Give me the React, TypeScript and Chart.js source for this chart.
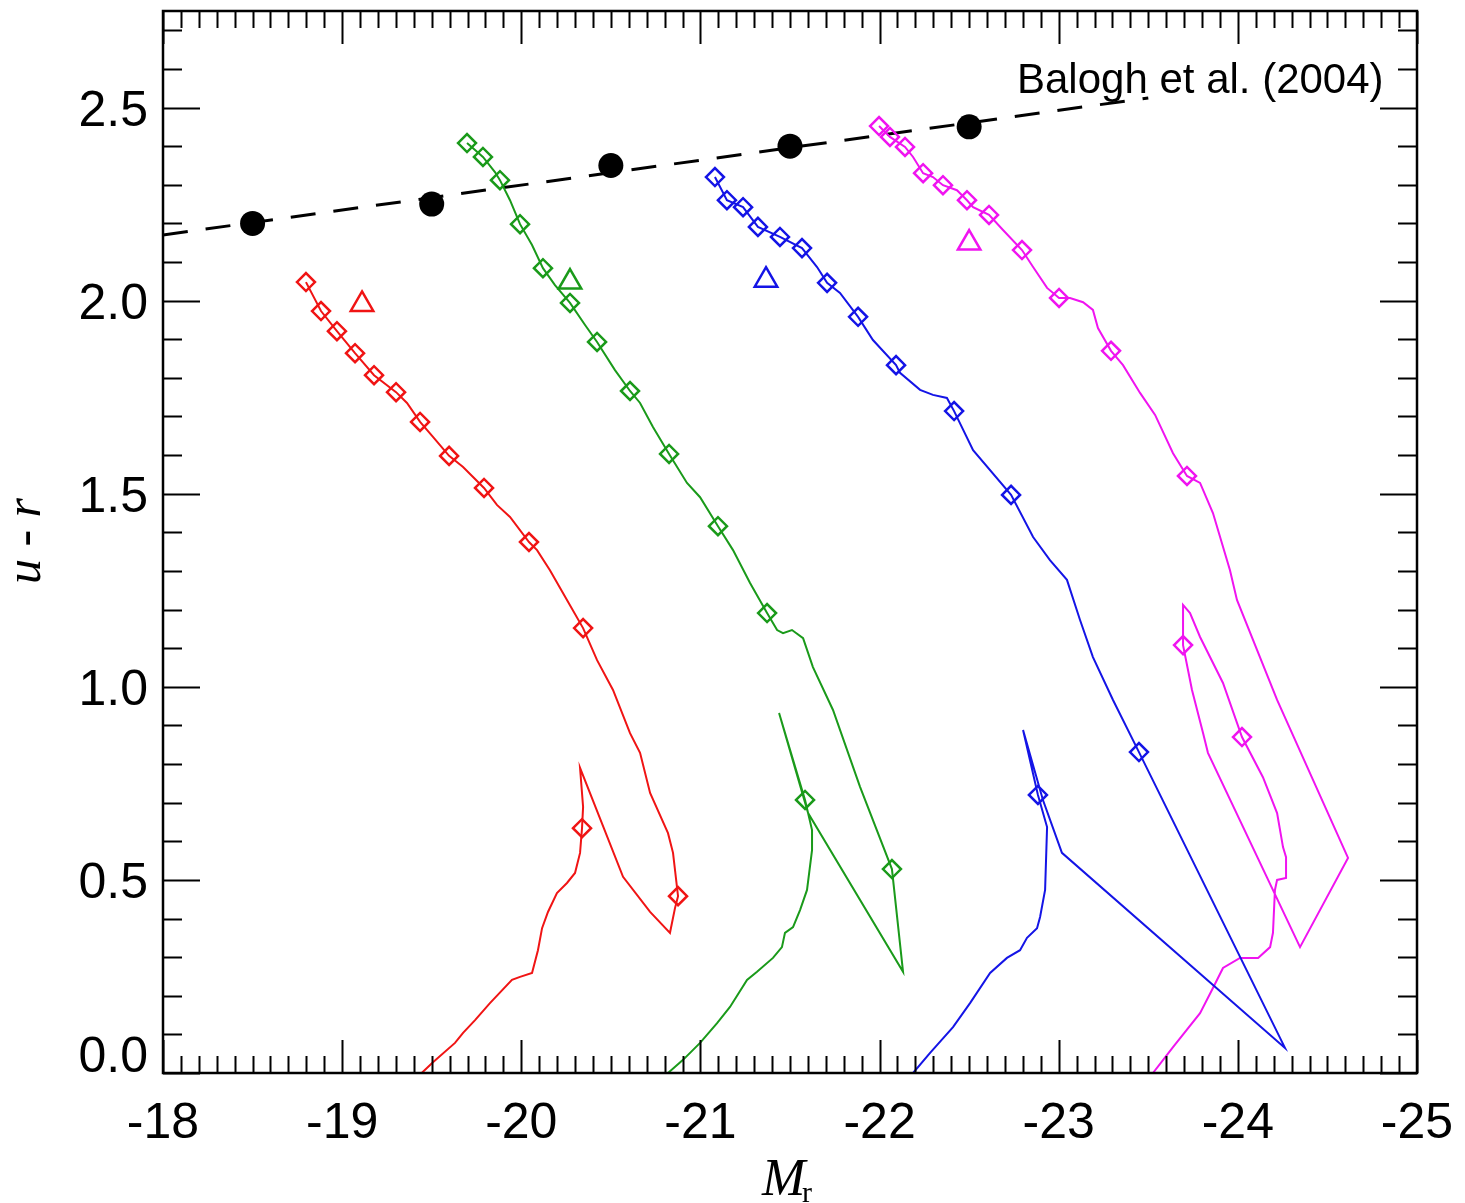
import React, { useEffect, useRef } from 'react';
import { Chart, registerables } from 'chart.js';

Chart.register(...registerables);

// ---- axes ----
const X_MIN = -25;
const X_MAX = -18;
const Y_MIN = 0;
const Y_MAX = 2.75;
const X_TICKS = [-18, -19, -20, -21, -22, -23, -24, -25];
const X_TICK_LABELS = ['-18', '-19', '-20', '-21', '-22', '-23', '-24', '-25'];
const Y_TICKS = [0, 0.5, 1.0, 1.5, 2.0, 2.5];
const Y_TICK_LABELS = ['0.0', '0.5', '1.0', '1.5', '2.0', '2.5'];
const MINOR_STEP = 0.1;

// ---- Balogh et al. (2004) red-sequence relation ----
const BALOGH_X = [-18.5, -19.5, -20.5, -21.5, -22.5];
const BALOGH_Y = [2.2, 2.25, 2.35, 2.4, 2.45];
const FIT_X = [-18.0, -23.5];
const FIT_Y = [2.17, 2.525];

// ---- red track ----
const RED_X = [-19.444, -19.507, -19.63, -19.675, -19.742, -19.825, -19.948, -19.993, -20.06, -20.093, -20.116, -20.149, -20.199, -20.255, -20.3, -20.328, -20.339, -20.345, -20.328, -20.568, -20.719, -20.83, -20.858, -20.875, -20.847, -20.819, -20.719, -20.663, -20.607, -20.512, -20.423, -20.345, -20.255, -20.16, -20.088, -20.043, -19.937, -19.864, -19.792, -19.675, -19.597, -19.507, -19.435, -19.362, -19.301, -19.178, -19.072, -18.971, -18.882, -18.798];
const RED_Y = [0.0, 0.028, 0.078, 0.104, 0.137, 0.181, 0.241, 0.249, 0.259, 0.318, 0.375, 0.417, 0.466, 0.492, 0.518, 0.57, 0.634, 0.689, 0.79, 0.508, 0.417, 0.363, 0.427, 0.458, 0.57, 0.621, 0.725, 0.829, 0.88, 0.992, 1.069, 1.152, 1.225, 1.302, 1.354, 1.375, 1.44, 1.471, 1.515, 1.569, 1.598, 1.647, 1.686, 1.735, 1.763, 1.807, 1.864, 1.921, 1.973, 2.048];
const RED_MARKS = [16, 23, 31, 35, 38, 40, 42, 44, 45, 46, 47, 48, 49];
const RED_TRI_X = [-19.111];
const RED_TRI_Y = [1.99];

// ---- green track ----
const GREEN_X = [-20.819, -20.903, -20.998, -21.093, -21.165, -21.26, -21.316, -21.405, -21.455, -21.472, -21.517, -21.556, -21.595, -21.623, -21.623, -21.584, -21.539, -21.439, -21.601, -22.131, -22.069, -21.891, -21.74, -21.628, -21.573, -21.511, -21.461, -21.428, -21.372, -21.277, -21.182, -21.098, -20.998, -20.925, -20.825, -20.735, -20.663, -20.607, -20.523, -20.423, -20.356, -20.272, -20.188, -20.121, -20.06, -19.993, -19.937, -19.881, -19.853, -19.786, -19.742, -19.697];
const GREEN_Y = [0.0, 0.034, 0.078, 0.129, 0.171, 0.241, 0.262, 0.298, 0.326, 0.363, 0.378, 0.422, 0.474, 0.577, 0.629, 0.707, 0.777, 0.932, 0.673, 0.262, 0.528, 0.741, 0.94, 1.051, 1.126, 1.147, 1.139, 1.147, 1.191, 1.269, 1.354, 1.416, 1.491, 1.528, 1.603, 1.673, 1.735, 1.766, 1.82, 1.893, 1.937, 1.994, 2.04, 2.084, 2.144, 2.198, 2.26, 2.312, 2.333, 2.372, 2.39, 2.408];
const GREEN_MARKS = [15, 20, 28, 31, 34, 37, 39, 41, 43, 45, 47, 49, 51];
const GREEN_TRI_X = [-20.272];
const GREEN_TRI_Y = [2.048];

// ---- blue track ----
const BLUE_X = [-22.187, -22.282, -22.41, -22.505, -22.617, -22.711, -22.784, -22.823, -22.879, -22.896, -22.924, -22.935, -22.884, -22.801, -22.912, -23.018, -24.263, -23.448, -23.303, -23.191, -23.119, -23.046, -22.951, -22.857, -22.734, -22.522, -22.416, -22.376, -22.298, -22.226, -22.114, -22.092, -21.963, -21.88, -21.779, -21.707, -21.651, -21.567, -21.444, -21.321, -21.238, -21.148, -21.081];
const BLUE_Y = [0.0, 0.052, 0.119, 0.181, 0.259, 0.298, 0.318, 0.35, 0.375, 0.404, 0.474, 0.637, 0.72, 0.888, 0.707, 0.57, 0.065, 0.831, 0.966, 1.077, 1.173, 1.277, 1.328, 1.388, 1.497, 1.613, 1.714, 1.748, 1.756, 1.769, 1.813, 1.833, 1.898, 1.958, 2.02, 2.046, 2.087, 2.136, 2.165, 2.191, 2.242, 2.26, 2.32];
const BLUE_MARKS = [12, 17, 24, 26, 31, 33, 35, 37, 38, 39, 40, 41, 42];
const BLUE_TRI_X = [-21.366];
const BLUE_TRI_Y = [2.053];

// ---- magenta track ----
const MAGENTA_X = [-23.526, -23.638, -23.789, -23.861, -23.917, -24.012, -24.113, -24.18, -24.196, -24.207, -24.219, -24.269, -24.269, -24.252, -24.219, -24.14, -24.023, -23.917, -23.789, -23.733, -23.694, -23.694, -23.744, -23.806, -23.833, -24.347, -24.615, -24.219, -23.995, -23.956, -23.861, -23.789, -23.716, -23.638, -23.538, -23.454, -23.359, -23.292, -23.219, -23.191, -23.136, -23.063, -23.002, -22.935, -22.857, -22.795, -22.689, -22.611, -22.522, -22.488, -22.432, -22.354, -22.298, -22.243, -22.187, -22.142, -22.058, -21.997];
const MAGENTA_Y = [0.0, 0.067, 0.155, 0.22, 0.272, 0.298, 0.298, 0.326, 0.363, 0.474, 0.5, 0.505, 0.559, 0.585, 0.673, 0.766, 0.87, 1.01, 1.129, 1.191, 1.212, 1.108, 0.992, 0.88, 0.829, 0.326, 0.557, 0.966, 1.225, 1.302, 1.45, 1.528, 1.546, 1.605, 1.704, 1.761, 1.833, 1.87, 1.929, 1.976, 1.996, 2.007, 2.007, 2.033, 2.087, 2.131, 2.183, 2.222, 2.242, 2.26, 2.286, 2.299, 2.32, 2.33, 2.372, 2.398, 2.424, 2.452];
const MAGENTA_MARKS = [16, 21, 32, 37, 42, 45, 47, 49, 51, 53, 55, 56, 57];
const MAGENTA_TRI_X = [-22.5];
const MAGENTA_TRI_Y = [2.149];

const RED = '#f01414';
const GREEN = '#1a9a1a';
const BLUE = '#1414e6';
const MAGENTA = '#f014f0';

const pts = (xs: number[], ys: number[]) => xs.map((x, i) => ({ x, y: ys[i] }));
const pick = (xs: number[], ys: number[], idx: number[]) => idx.map((i) => ({ x: xs[i], y: ys[i] }));

function trackDatasets(
  name: string,
  xs: number[],
  ys: number[],
  marks: number[],
  tx: number[],
  ty: number[],
  color: string
) {
  return [
    {
      label: name + ' marks',
      data: pick(xs, ys, marks),
      showLine: false,
      pointStyle: 'rectRot',
      pointRadius: 9,
      pointHoverRadius: 9,
      borderWidth: 2.5,
      borderColor: color,
      backgroundColor: 'rgba(0,0,0,0)',
    },
    {
      label: name + ' triangle',
      data: pts(tx, ty),
      showLine: false,
      pointStyle: 'triangle',
      pointRadius: 13,
      pointHoverRadius: 13,
      borderWidth: 2.5,
      borderColor: color,
      backgroundColor: 'rgba(0,0,0,0)',
    },
    {
      label: name,
      data: pts(xs, ys),
      showLine: true,
      borderColor: color,
      borderWidth: 2,
      pointRadius: 0,
      pointHoverRadius: 0,
      tension: 0,
      fill: false,
    },
  ];
}

const idlAxes = {
  id: 'idlAxes',
  afterDraw(chart: any) {
    const { ctx, chartArea: a, scales } = chart;
    const xs = scales.x;
    const ys = scales.y;
    ctx.save();
    ctx.strokeStyle = '#000';
    ctx.fillStyle = '#000';
    ctx.lineWidth = 2;
    ctx.lineCap = 'butt';

    // minor + major ticks on all four sides
    const nx = Math.round((X_MAX - X_MIN) / MINOR_STEP);
    for (let i = 0; i <= nx; i++) {
      const v = X_MIN + i * MINOR_STEP;
      const major = Math.abs(v - Math.round(v)) < 1e-6;
      const len = major ? 33 : 17;
      const px = Math.round(xs.getPixelForValue(v)) + 0.5;
      ctx.beginPath();
      ctx.moveTo(px, a.bottom);
      ctx.lineTo(px, a.bottom - len);
      ctx.moveTo(px, a.top);
      ctx.lineTo(px, a.top + len);
      ctx.stroke();
    }
    const ny = Math.round((Y_MAX - Y_MIN) / MINOR_STEP);
    for (let i = 0; i <= ny; i++) {
      const v = Y_MIN + i * MINOR_STEP;
      const major = Math.abs(v * 2 - Math.round(v * 2)) < 1e-6;
      const len = major ? 37 : 19;
      const py = Math.round(ys.getPixelForValue(v)) + 0.5;
      ctx.beginPath();
      ctx.moveTo(a.left, py);
      ctx.lineTo(a.left + len, py);
      ctx.moveTo(a.right, py);
      ctx.lineTo(a.right - len, py);
      ctx.stroke();
    }

    // frame
    ctx.lineWidth = 2.5;
    ctx.strokeRect(a.left, a.top, a.right - a.left, a.bottom - a.top);

    // tick labels
    ctx.font = '50px "Liberation Sans", Arial, sans-serif';
    ctx.textBaseline = 'alphabetic';
    ctx.textAlign = 'center';
    X_TICKS.forEach((v, i) => {
      ctx.fillText(X_TICK_LABELS[i], xs.getPixelForValue(v), a.bottom + 65);
    });
    ctx.textAlign = 'right';
    Y_TICKS.forEach((v, i) => {
      const base = Math.min(ys.getPixelForValue(v) + 18, a.bottom - 1);
      ctx.fillText(Y_TICK_LABELS[i], a.left - 15, base);
    });

    // x title: M_r
    ctx.textAlign = 'left';
    ctx.font = 'italic 52px "Liberation Serif", "Times New Roman", serif';
    ctx.fillText('M', 762, 1195);
    ctx.font = '30px "Liberation Serif", "Times New Roman", serif';
    ctx.fillText('r', 802, 1202);

    // y title: u - r
    ctx.save();
    ctx.translate(40, 541);
    ctx.rotate(-Math.PI / 2);
    ctx.textAlign = 'center';
    ctx.font = 'italic 50px "Liberation Serif", "Times New Roman", serif';
    ctx.fillText('u - r', 0, 0);
    ctx.restore();

    // annotation
    ctx.textAlign = 'left';
    ctx.font = '42px "Liberation Sans", Arial, sans-serif';
    ctx.fillText('Balogh et al. (2004)', 1017, 93);

    ctx.restore();
  },
};

export default function App() {
  const ref = useRef<HTMLCanvasElement | null>(null);

  useEffect(() => {
    if (!ref.current) return;
    const datasets: any[] = [
      {
        label: 'Balogh et al. (2004)',
        data: pts(BALOGH_X, BALOGH_Y),
        showLine: false,
        pointStyle: 'circle',
        pointRadius: 12.5,
        pointHoverRadius: 12.5,
        borderWidth: 0,
        backgroundColor: '#000',
        borderColor: '#000',
      },
      ...trackDatasets('red', RED_X, RED_Y, RED_MARKS, RED_TRI_X, RED_TRI_Y, RED),
      ...trackDatasets('green', GREEN_X, GREEN_Y, GREEN_MARKS, GREEN_TRI_X, GREEN_TRI_Y, GREEN),
      ...trackDatasets('blue', BLUE_X, BLUE_Y, BLUE_MARKS, BLUE_TRI_X, BLUE_TRI_Y, BLUE),
      ...trackDatasets('magenta', MAGENTA_X, MAGENTA_Y, MAGENTA_MARKS, MAGENTA_TRI_X, MAGENTA_TRI_Y, MAGENTA),
      {
        label: 'fit',
        data: pts(FIT_X, FIT_Y),
        showLine: true,
        borderColor: '#000',
        borderWidth: 3,
        borderDash: [25, 18],
        pointRadius: 0,
        pointHoverRadius: 0,
      },
    ];
    const chart = new Chart(ref.current, {
      type: 'scatter',
      data: { datasets },
      options: {
        animation: false,
        responsive: false,
        events: [],
        layout: { autoPadding: false, padding: { left: 163, right: 48, top: 11, bottom: 130 } },
        plugins: { legend: { display: false }, tooltip: { enabled: false } },
        scales: {
          x: { type: 'linear', min: X_MIN, max: X_MAX, reverse: true, display: false },
          y: { type: 'linear', min: Y_MIN, max: Y_MAX, display: false },
        },
      },
      plugins: [idlAxes],
    } as any);
    return () => chart.destroy();
  }, []);

  return (
    <div style={{ position: 'absolute', left: 0, top: 0, width: 1465, height: 1203, background: '#fff' }}>
      <canvas ref={ref} width={1465} height={1203} style={{ display: 'block', width: 1465, height: 1203 }} />
    </div>
  );
}
